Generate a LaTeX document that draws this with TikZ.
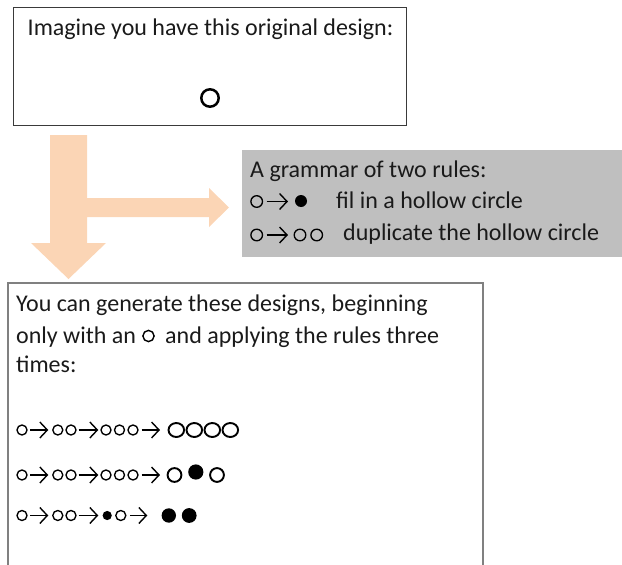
\documentclass[tikz,border=0pt]{standalone}
\usepackage{fontspec}
\setmainfont{Carlito}
\usetikzlibrary{arrows.meta,calc}
\definecolor{peach}{HTML}{FBD5B5}
\definecolor{panelgray}{HTML}{BFBFBF}
\definecolor{boxline}{HTML}{3A3A3A}
\definecolor{boxline2}{HTML}{808080}
\definecolor{ink}{HTML}{1A1A1A}
\begin{document}
\begin{tikzpicture}[x=1pt,y=-1pt,
  txt/.style={inner sep=0pt, anchor=base west, text=ink, font=\fontsize{24}{28}\selectfont},
  frame/.style={inner sep=0pt, anchor=north west},
  hol/.style={draw=black, line width=1.35pt},
  holbig/.style={draw=black, line width=1.9pt},
  dot/.style={fill=black},
  rarr/.style={draw=black, line width=1.4pt, -{Straight Barb[length=7.5pt,width=16pt]}},
  bigarrow/.style={fill=peach, draw=none},
]
\useasboundingbox (0,0) rectangle (622,565);

% ---------- frames ----------
\node[frame, draw=boxline, line width=1pt, minimum width=393pt, minimum height=118pt] (orig) at (13,7) {};
\node[frame, fill=panelgray, minimum width=390pt, minimum height=107pt] (rules) at (242,150) {};
\node[frame, draw=boxline2, line width=1.5pt, minimum width=475pt, minimum height=300pt] (gen) at (7,282) {};

% ---------- orange arrows ----------
\fill[bigarrow] (50,135) -- (87,135) -- (87,198) -- (209,198) -- (209,188) -- (229,207.5)
  -- (209,227) -- (209,217) -- (87,217) -- (87,243) -- (106,243) -- (68.5,279)
  -- (31,243) -- (50,243) -- cycle;

% ---------- box 1 ----------
\node[txt, anchor=base] (t1) at (210.5,35) {Imagine you have this original design:};
\draw[line width=2.5pt] (210,98) circle (8.7pt);

% ---------- grammar ----------
\node[txt] (g1) at (250,177) {A grammar of two rules:};
\draw[hol] (256.7,201.5) circle (5.8pt);
\draw[rarr] (266.5,201.5) -- (288,201.5);
\fill[dot] (301,201) circle (6pt);
\node[txt] (g2) at (336,208) {fil in a hollow circle};
\draw[hol] (256.7,235) circle (5.8pt);
\draw[rarr] (266.5,235) -- (288,235);
\draw[hol] (300,235) circle (5.8pt);
\draw[hol] (316.7,235) circle (5.8pt);
\node[txt] (g3) at (343,240.5) {duplicate the hollow circle};

% ---------- box 3 text ----------
\node[txt] (p1) at (16,311) {You can generate these designs, beginning};
\node[txt] (p2a) at (16,343) {only with an};
\draw[line width=1.4pt] (148.5,336) circle (5.6pt);
\node[txt] (p2b) at (165,343) {and applying the rules three};
\node[txt] (p3) at (16,372) {times:};

% ---------- derivation rows ----------
\foreach \y in {430,475} {
  \draw[hol] (22,\y) circle (5pt);
  \draw[rarr] (30,\y) -- (48.3,\y);
  \draw[hol] (57.8,\y) circle (5pt);
  \draw[hol] (71,\y) circle (5pt);
  \draw[rarr] (78.5,\y) -- (98.3,\y);
  \draw[hol] (106,\y) circle (5pt);
  \draw[hol] (119.5,\y) circle (5pt);
  \draw[hol] (133,\y) circle (5pt);
  \draw[rarr] (141.7,\y) -- (160,\y);
}
% row 1 result
\foreach \x in {176.3,194.3,212.3,230.3} { \draw[holbig] (\x,430) ellipse (7.8pt and 7pt); }
% row 2 result
\draw[holbig] (174.5,475) ellipse (6.9pt and 6.9pt);
\fill[dot] (195.8,472) circle (7.6pt);
\draw[holbig] (217,475) ellipse (6.9pt and 6.9pt);
% row 3
\draw[hol] (22,515.5) circle (5pt);
\draw[rarr] (30,515.5) -- (48.3,515.5);
\draw[hol] (57.8,515.5) circle (5pt);
\draw[hol] (71,515.5) circle (5pt);
\draw[rarr] (78.5,515.5) -- (98.3,515.5);
\fill[dot] (107.2,515.5) circle (4.6pt);
\draw[hol] (120.8,515.5) circle (5pt);
\draw[rarr] (130,515.5) -- (147.3,515.5);
\fill[dot] (168.8,515.5) circle (7.2pt);
\fill[dot] (189.2,515.5) circle (7.4pt);
\end{tikzpicture}
\end{document}
